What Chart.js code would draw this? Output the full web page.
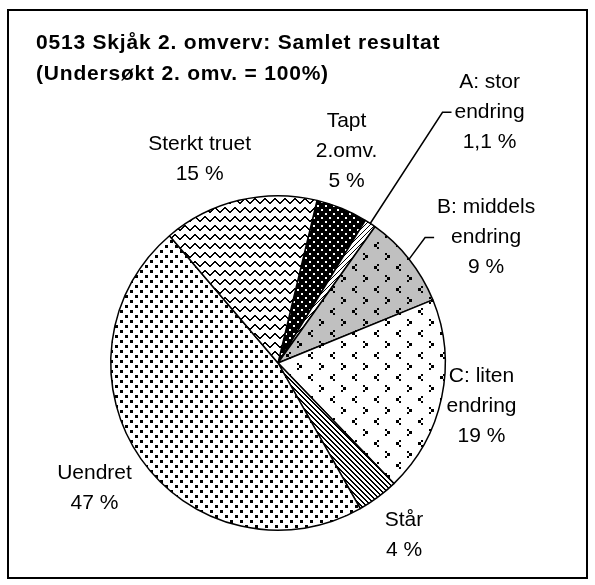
<!DOCTYPE html>
<html>
<head>
<meta charset="utf-8">
<script src="https://cdn.jsdelivr.net/npm/chart.js@4.4.1/dist/chart.umd.min.js"></script>
<style>
  html, body { margin: 0; padding: 0; background: #fff; }
  canvas { display: block; }
</style>
</head>
<body>
<canvas id="pie" width="595" height="585"></canvas>
<script>
/* ─── Data ─── */
const TITLE_LINES = ['0513 Skjåk 2. omverv: Samlet resultat', '(Undersøkt 2. omv. = 100%)'];
const CATEGORIES  = [
  ['Tapt', '2.omv.'],
  ['A: stor', 'endring'],
  ['B: middels', 'endring'],
  ['C: liten', 'endring'],
  ['Står'],
  ['Uendret'],
  ['Sterkt truet'],
];
const SHARES = [5, 1.1, 9, 19, 4, 47, 15];

/* label placement: distance from centre (px), angle shift from slice middle (deg), leader line */
const LABEL_PLACE = [
  { dist: 223, shift: -4.6 },
  { dist: 328, shift: 6.7, leader: true },
  { dist: 243, shift: 7.3, leader: true },
  { dist: 208, shift: 0 },
  { dist: 213, shift: 0.4 },
  { dist: 222, shift: 0.7 },
  { dist: 218, shift: -7.6 },
];

const FONT = "'Liberation Sans', Arial, sans-serif";
const canvas = document.getElementById('pie');
const ctx = canvas.getContext('2d');

/* ─── Excel-like fill patterns ─── */
function makePattern(w, h, bg, fg, cells) {
  const c = document.createElement('canvas');
  c.width = w; c.height = h;
  const g = c.getContext('2d');
  g.fillStyle = bg;
  g.fillRect(0, 0, w, h);
  g.fillStyle = fg;
  cells.forEach(([x, y, cw, ch]) => g.fillRect(x, y, cw || 1, ch || 1));
  return ctx.createPattern(c, 'repeat');
}

const zig = [4, 3, 2, 1, 0, 0, 1, 2, 3, 4].map((y, x) => [x, y, 1, 2]);
const chevrons = [
  [3, 0, 2, 2], [0, 2, 3, 3], [3, 5, 2, 2],          // <
  [11, 11, 2, 2], [13, 13, 3, 3], [11, 16, 2, 2],    // >
];
const backslash = [0, 1, 2, 3, 4].flatMap(i => [[i, i], [(i + 1) % 5, i]]);
const slash = [0, 1, 2, 3, 4].map(i => [4 - i, i]);

const FILLS = [
  makePattern(8, 8, '#000', '#fff', [[1, 1, 2, 2], [5, 5, 2, 2]]),    // Tapt
  makePattern(5, 5, '#fff', '#000', slash),                            // A
  makePattern(22, 22, '#c0c0c0', '#000', chevrons),                    // B
  makePattern(22, 22, '#fff', '#000', chevrons),                       // C
  makePattern(5, 5, '#fff', '#000', backslash),                        // Står
  makePattern(10, 10, '#fff', '#000', [[0, 0, 3, 3], [5, 5, 3, 3]]),  // Uendret
  makePattern(10, 9, '#fff', '#000', zig),                             // Sterkt truet
];

const fmtPct = v => String(v).replace('.', ',') + ' %';

/* ─── Frame + title ─── */
const framePlugin = {
  id: 'frame',
  beforeDraw(chart) {
    const c = chart.ctx;
    c.save();
    c.fillStyle = '#fff';
    c.fillRect(0, 0, chart.width, chart.height);
    c.strokeStyle = '#000';
    c.lineWidth = 2;
    c.strokeRect(8, 10, 579, 568);
    c.fillStyle = '#000';
    c.font = `bold 21px ${FONT}`;
    c.letterSpacing = '0.8px';
    c.textBaseline = 'middle';
    c.textAlign = 'left';
    TITLE_LINES.forEach((t, i) => c.fillText(t, 36, 43 + i * 31));
    c.restore();
  },
};

/* ─── Slice labels with leader lines ─── */
const labelPlugin = {
  id: 'sliceLabels',
  afterDatasetsDraw(chart) {
    const c = chart.ctx;
    const meta = chart.getDatasetMeta(0);
    c.save();
    c.font = `21px ${FONT}`;
    c.fillStyle = '#000';
    c.strokeStyle = '#000';
    c.textAlign = 'center';
    c.textBaseline = 'middle';
    meta.data.forEach((arc, i) => {
      const { x, y, startAngle, endAngle, outerRadius } =
        arc.getProps(['x', 'y', 'startAngle', 'endAngle', 'outerRadius'], true);
      const place = LABEL_PLACE[i];
      const mid = (startAngle + endAngle) / 2;
      const a = mid + place.shift * Math.PI / 180;
      const lx = x + place.dist * Math.cos(a);
      const ly = y + place.dist * Math.sin(a);
      const lines = [...CATEGORIES[i], fmtPct(SHARES[i])];
      const lh = 30;
      const top = ly - (lines.length - 1) * lh / 2;
      lines.forEach((t, k) => c.fillText(t, lx, top + k * lh));

      if (place.leader) {
        const widest = Math.max(...lines.map(t => c.measureText(t).width));
        const ex = lx - widest / 2 - 3;
        const sx = x + outerRadius * Math.cos(mid);
        const sy = y + outerRadius * Math.sin(mid);
        c.lineWidth = 1.5;
        c.beginPath();
        c.moveTo(sx, sy);
        c.lineTo(ex - 9, ly);
        c.lineTo(ex, ly);
        c.stroke();
      }
    });
    c.restore();
  },
};

new Chart(canvas, {
  type: 'pie',
  data: {
    labels: CATEGORIES.map(l => l.join(' ')),
    datasets: [{
      data: SHARES,
      backgroundColor: FILLS,
      borderColor: '#000',
      borderWidth: 1.5,
    }],
  },
  options: {
    responsive: false,
    animation: false,
    rotation: 13.5,
    layout: { padding: { left: 110, top: 195, right: 149, bottom: 54 } },
    plugins: {
      legend: { display: false },
      tooltip: { enabled: false },
    },
  },
  plugins: [framePlugin, labelPlugin],
});
</script>
</body>
</html>
